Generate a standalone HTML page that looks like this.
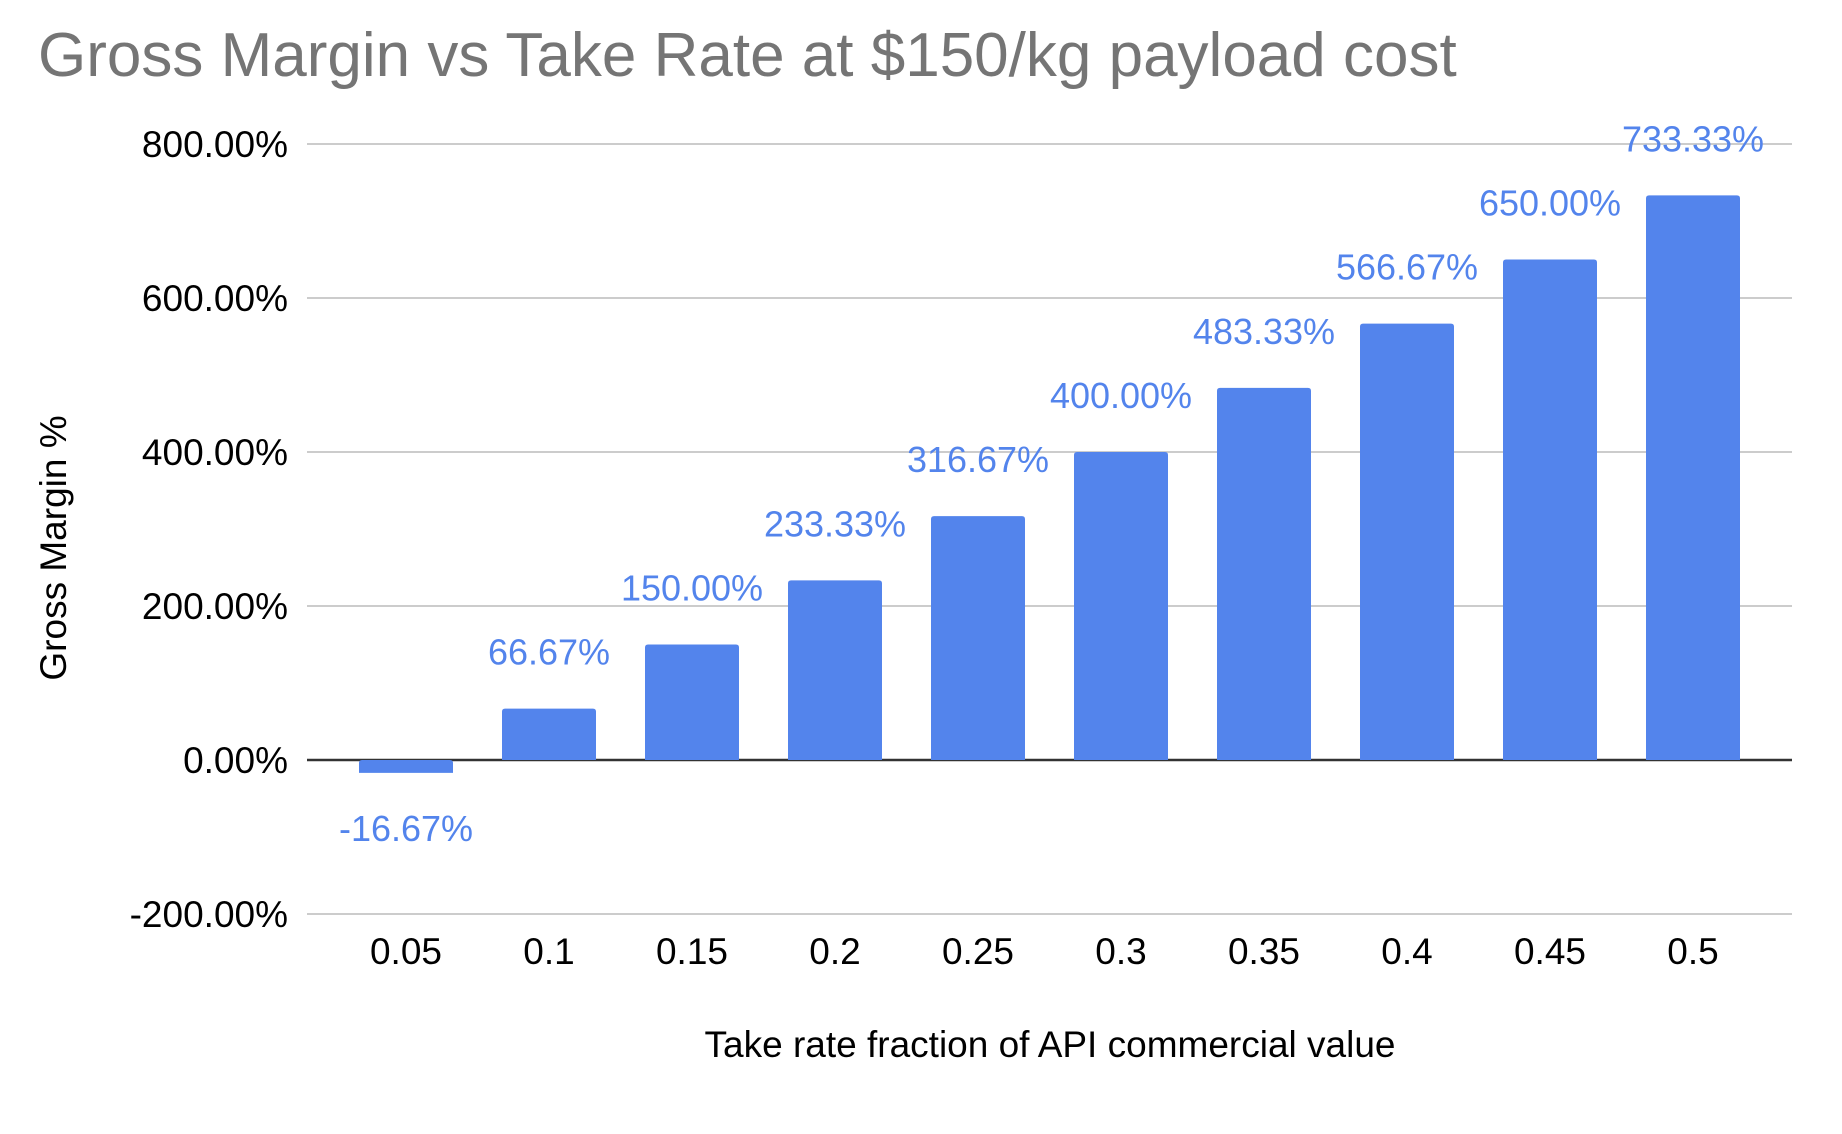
<!DOCTYPE html>
<html><head><meta charset="utf-8"><style>
body{margin:0;background:#fff;}
svg{display:block;font-family:"Liberation Sans",Arial,sans-serif;}
</style></head><body>
<svg id="chart" width="1842" height="1134" viewBox="0 0 1842 1134" xmlns="http://www.w3.org/2000/svg">
<rect width="1842" height="1134" fill="#fff"/>
<text x="38" y="76" font-size="62" fill="#757575">Gross Margin vs Take Rate at $150/kg payload cost</text>
<g id="grid"></g><g id="bars"></g><g id="labels"></g>
<text transform="translate(66,548) rotate(-90)" text-anchor="middle" font-size="37" fill="#000">Gross Margin %</text>
<text x="1050" y="1057" text-anchor="middle" font-size="37" fill="#000">Take rate fraction of API commercial value</text>
</svg>
<script>
const categories=["0.05","0.1","0.15","0.2","0.25","0.3","0.35","0.4","0.45","0.5"];
const values=[-16.67,66.67,150.00,233.33,316.67,400.00,483.33,566.67,650.00,733.33];
const yTicks=[-200,0,200,400,600,800];
const NS="http://www.w3.org/2000/svg";
const plotL=307,plotR=1792,yZero=760,yPer=154/200;
const y=v=>yZero-v*yPer;
const firstX=406,step=143;
const x=i=>firstX+step*i;
const bw=94;
function mk(tag,attrs,parent){const e=document.createElementNS(NS,tag);for(const k in attrs)e.setAttribute(k,attrs[k]);document.getElementById(parent).appendChild(e);return e;}
yTicks.forEach(t=>{
 const l=mk('line',{x1:plotL,x2:plotR,y1:y(t),y2:y(t),stroke:t===0?'#333':'#ccc','stroke-width':t===0?2.5:2},'grid');
 
 
 const tx=mk('text',{x:288,y:y(t)+13,'text-anchor':'end','font-size':37,fill:'#000'},'grid');
 tx.textContent=t.toFixed(2)+'%';
 
 
});
values.forEach((v,i)=>{
 const top=Math.min(y(v),yZero),h=Math.abs(y(v)-yZero);
 const r=mk('path',{d:`M${x(i)-bw/2},${top+h} V${top+3} Q${x(i)-bw/2},${top} ${x(i)-bw/2+3},${top} H${x(i)+bw/2-3} Q${x(i)+bw/2},${top} ${x(i)+bw/2},${top+3} V${top+h} Z`,fill:'#5384ec'},'bars');
 
 
 const ly=v>=0?y(v)-44:y(v)+68;
 const lt=mk('text',{x:x(i),y:ly,'text-anchor':'middle','font-size':36,fill:'#5384ec'},'labels');
 lt.textContent=v.toFixed(2)+'%';
 
 
 const ct=mk('text',{x:x(i),y:964,'text-anchor':'middle','font-size':37,fill:'#000'},'labels');
 ct.textContent=categories[i];
 
 
});
</script>
</body></html>
